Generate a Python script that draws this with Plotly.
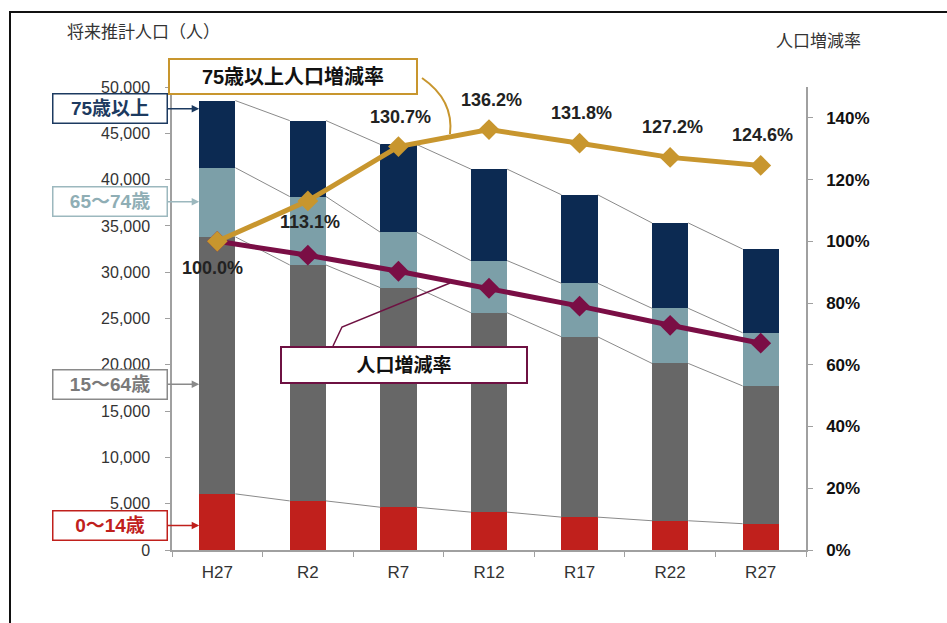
import plotly.graph_objects as go

# ---------------- data ----------------
years = ["H27", "R2", "R7", "R12", "R17", "R22", "R27"]
age_0_14 = [6060, 5300, 4620, 4090, 3550, 3160, 2840]
age_15_64 = [27750, 25480, 23710, 21530, 19470, 16990, 14880]
age_65_74 = [7470, 7390, 5990, 5630, 5780, 5950, 5740]
age_75_over = [7250, 8200, 9480, 9880, 9560, 9220, 9040]
rate_total = [100.0, 95.5, 90.3, 84.8, 79.0, 72.8, 67.0]
rate_75 = [100.0, 113.1, 130.7, 136.2, 131.8, 127.2, 124.6]
left_ticks = list(range(0, 50001, 5000))
right_ticks = list(range(0, 141, 20))

# ---------------- layout constants ----------------
W, H = 947, 623
L, R, T, B = 172, 141, 87, 73
PW, PH = W - L - R, H - T - B
FONT = "Arial, 'Liberation Sans', 'Noto Sans CJK JP', sans-serif"
C_RED, C_GRAY, C_LB, C_NAVY = "#C0201C", "#676767", "#7C9FA8", "#0C2A52"
C_GOLD, C_PURPLE = "#C8962E", "#7A0E45"
BAR_W = 0.4


def px(x):
    return (x - L) / PW


def py(y):
    return (H - B - y) / PH


x_idx = list(range(len(years)))
fig = go.Figure()

for vals, col, name in [(age_0_14, C_RED, "0～14歳"), (age_15_64, C_GRAY, "15～64歳"),
                        (age_65_74, C_LB, "65～74歳"), (age_75_over, C_NAVY, "75歳以上")]:
    fig.add_trace(go.Bar(x=x_idx, y=vals, width=BAR_W, marker=dict(color=col, line=dict(width=0)),
                         name=name, showlegend=False))

# series lines between bars (Excel style)
cum = [0] * len(years)
for vals in [age_0_14, age_15_64, age_65_74, age_75_over]:
    cum = [c + v for c, v in zip(cum, vals)]
    xs, ys = [], []
    for i in range(len(years) - 1):
        xs += [i + BAR_W / 2, i + 1 - BAR_W / 2, None]
        ys += [cum[i], cum[i + 1], None]
    fig.add_trace(go.Scatter(x=xs, y=ys, mode="lines", line=dict(color="#8A8A8A", width=1),
                             showlegend=False, hoverinfo="skip"))

fig.add_trace(go.Scatter(x=x_idx, y=rate_total, yaxis="y2", mode="lines+markers",
                         line=dict(color=C_PURPLE, width=5),
                         marker=dict(symbol="diamond", size=16, color=C_PURPLE),
                         showlegend=False))
fig.add_trace(go.Scatter(x=x_idx, y=rate_75, yaxis="y2", mode="lines+markers",
                         line=dict(color=C_GOLD, width=5),
                         marker=dict(symbol="diamond", size=16, color=C_GOLD),
                         showlegend=False))

annotations = []
# labels of 75+ rate
for i, v in enumerate(rate_75):
    if i == 0:
        ys_, xs_ = -27, -5
    elif i == 1:
        ys_, xs_ = -21, 2
    else:
        ys_, xs_ = 30, 2
    annotations.append(dict(x=i, y=v, xref="x", yref="y2", text=f"{v:.1f}%", showarrow=False,
                            xshift=xs_, yshift=ys_,
                            font=dict(family=FONT, size=18, color="#222222", weight="bold")))

# left category boxes with arrows
box_specs = [
    ("75歳以上", 109, 47660, "#1C3A60", "#1C3A60"),
    ("65～74歳", 202, 37600, "#8FAEB5", "#9CB8BE"),
    ("15～64歳", 384, 17900, "#7A7A7A", "#8A8A8A"),
    ("0～14歳", 525, 2650, C_RED, C_RED),
]
for txt, cy, val, tcol, bcol in box_specs:
    annotations.append(dict(x=-BAR_W / 2, y=val, xref="x", yref="y", text=f"<b>{txt}</b>",
                            showarrow=True, arrowhead=2, arrowsize=1, arrowwidth=1.5,
                            arrowcolor=bcol, axref="pixel", ayref="pixel", ax=-(199 - 110), ay=0,
                            width=111, height=26, bgcolor="white", bordercolor=bcol, borderwidth=1.5,
                            font=dict(family=FONT, size=19, color=tcol)))

# callout boxes
annotations.append(dict(x=px(293), y=py(76.5), xref="paper", yref="paper", text="<b>75歳以上人口増減率</b>",
                        showarrow=False, xanchor="center", yanchor="middle", width=244, height=31,
                        bgcolor="white", bordercolor=C_GOLD, borderwidth=2,
                        font=dict(family=FONT, size=20, color="#111111")))
annotations.append(dict(x=px(404), y=py(365), xref="paper", yref="paper", text="<b>人口増減率</b>",
                        showarrow=False, xanchor="center", yanchor="middle", width=242, height=32,
                        bgcolor="white", bordercolor="#6E1142", borderwidth=2,
                        font=dict(family=FONT, size=19, color="#111111")))

# axis titles
annotations.append(dict(x=px(143), y=py(33), xref="paper", yref="paper", text="将来推計人口（人）",
                        showarrow=False, xanchor="center", yanchor="middle",
                        font=dict(family=FONT, size=17, color="#333333")))
annotations.append(dict(x=px(818), y=py(42), xref="paper", yref="paper", text="人口増減率",
                        showarrow=False, xanchor="center", yanchor="middle",
                        font=dict(family=FONT, size=17, color="#333333")))


def pth(points, curve=False):
    if curve:
        (x0, y0), (x1, y1), (x2, y2) = points
        return f"M {px(x0)},{py(y0)} Q {px(x1)},{py(y1)} {px(x2)},{py(y2)}"
    s = f"M {px(points[0][0])},{py(points[0][1])}"
    for x, y in points[1:]:
        s += f" L {px(x)},{py(y)}"
    return s


shapes = [
    dict(type="path", xref="paper", yref="paper", path=pth([(422, 78), (454, 100), (450, 134)], True),
         line=dict(color=C_GOLD, width=2)),
    dict(type="path", xref="paper", yref="paper", path=pth([(333, 346), (342, 327), (450, 283)]),
         line=dict(color="#6E1142", width=1.5)),
    # outer frame
    dict(type="path", xref="paper", yref="paper",
         path=pth([(10, 700), (10, 12), (1000, 12)]), line=dict(color="#111111", width=2)),
]

fig.update_layout(
    width=W, height=H, margin=dict(l=L, r=R, t=T, b=B),
    paper_bgcolor="white", plot_bgcolor="white",
    barmode="stack", bargap=0.6, showlegend=False,
    font=dict(family=FONT, size=15, color="#333333"),
    xaxis=dict(range=[-0.5, len(years) - 0.5], tickmode="array", tickvals=x_idx, ticktext=years,
               ticks="", showline=True, linecolor="#A0A0A0", linewidth=1.5, showgrid=False, zeroline=False,
               minor=dict(tickvals=[i - 0.5 for i in range(len(years) + 1)], ticks="outside",
                          ticklen=5, tickcolor="#A0A0A0"),
               ticklabelstandoff=6,
               tickfont=dict(family=FONT, size=17, color="#333333")),
    yaxis=dict(range=[0, 50000], tickmode="array", tickvals=left_ticks, tickformat=",",
               ticks="outside", ticklen=5, tickcolor="#A0A0A0", showline=True, linecolor="#A0A0A0",
               linewidth=1.5, showgrid=False, zeroline=False, ticklabelstandoff=12,
               tickfont=dict(family=FONT, size=16, color="#333333")),
    yaxis2=dict(range=[0, 150], overlaying="y", side="right", tickmode="array", tickvals=right_ticks,
                ticktext=[f"<b>{v}%</b>" for v in right_ticks],
                ticks="outside", ticklen=5, tickcolor="#A0A0A0", showline=True, linecolor="#A0A0A0",
                linewidth=1.5, showgrid=False, zeroline=False, ticklabelstandoff=10,
                tickfont=dict(family=FONT, size=17, color="#111111")),
    annotations=annotations, shapes=shapes,
)

fig.write_html("out.html")
